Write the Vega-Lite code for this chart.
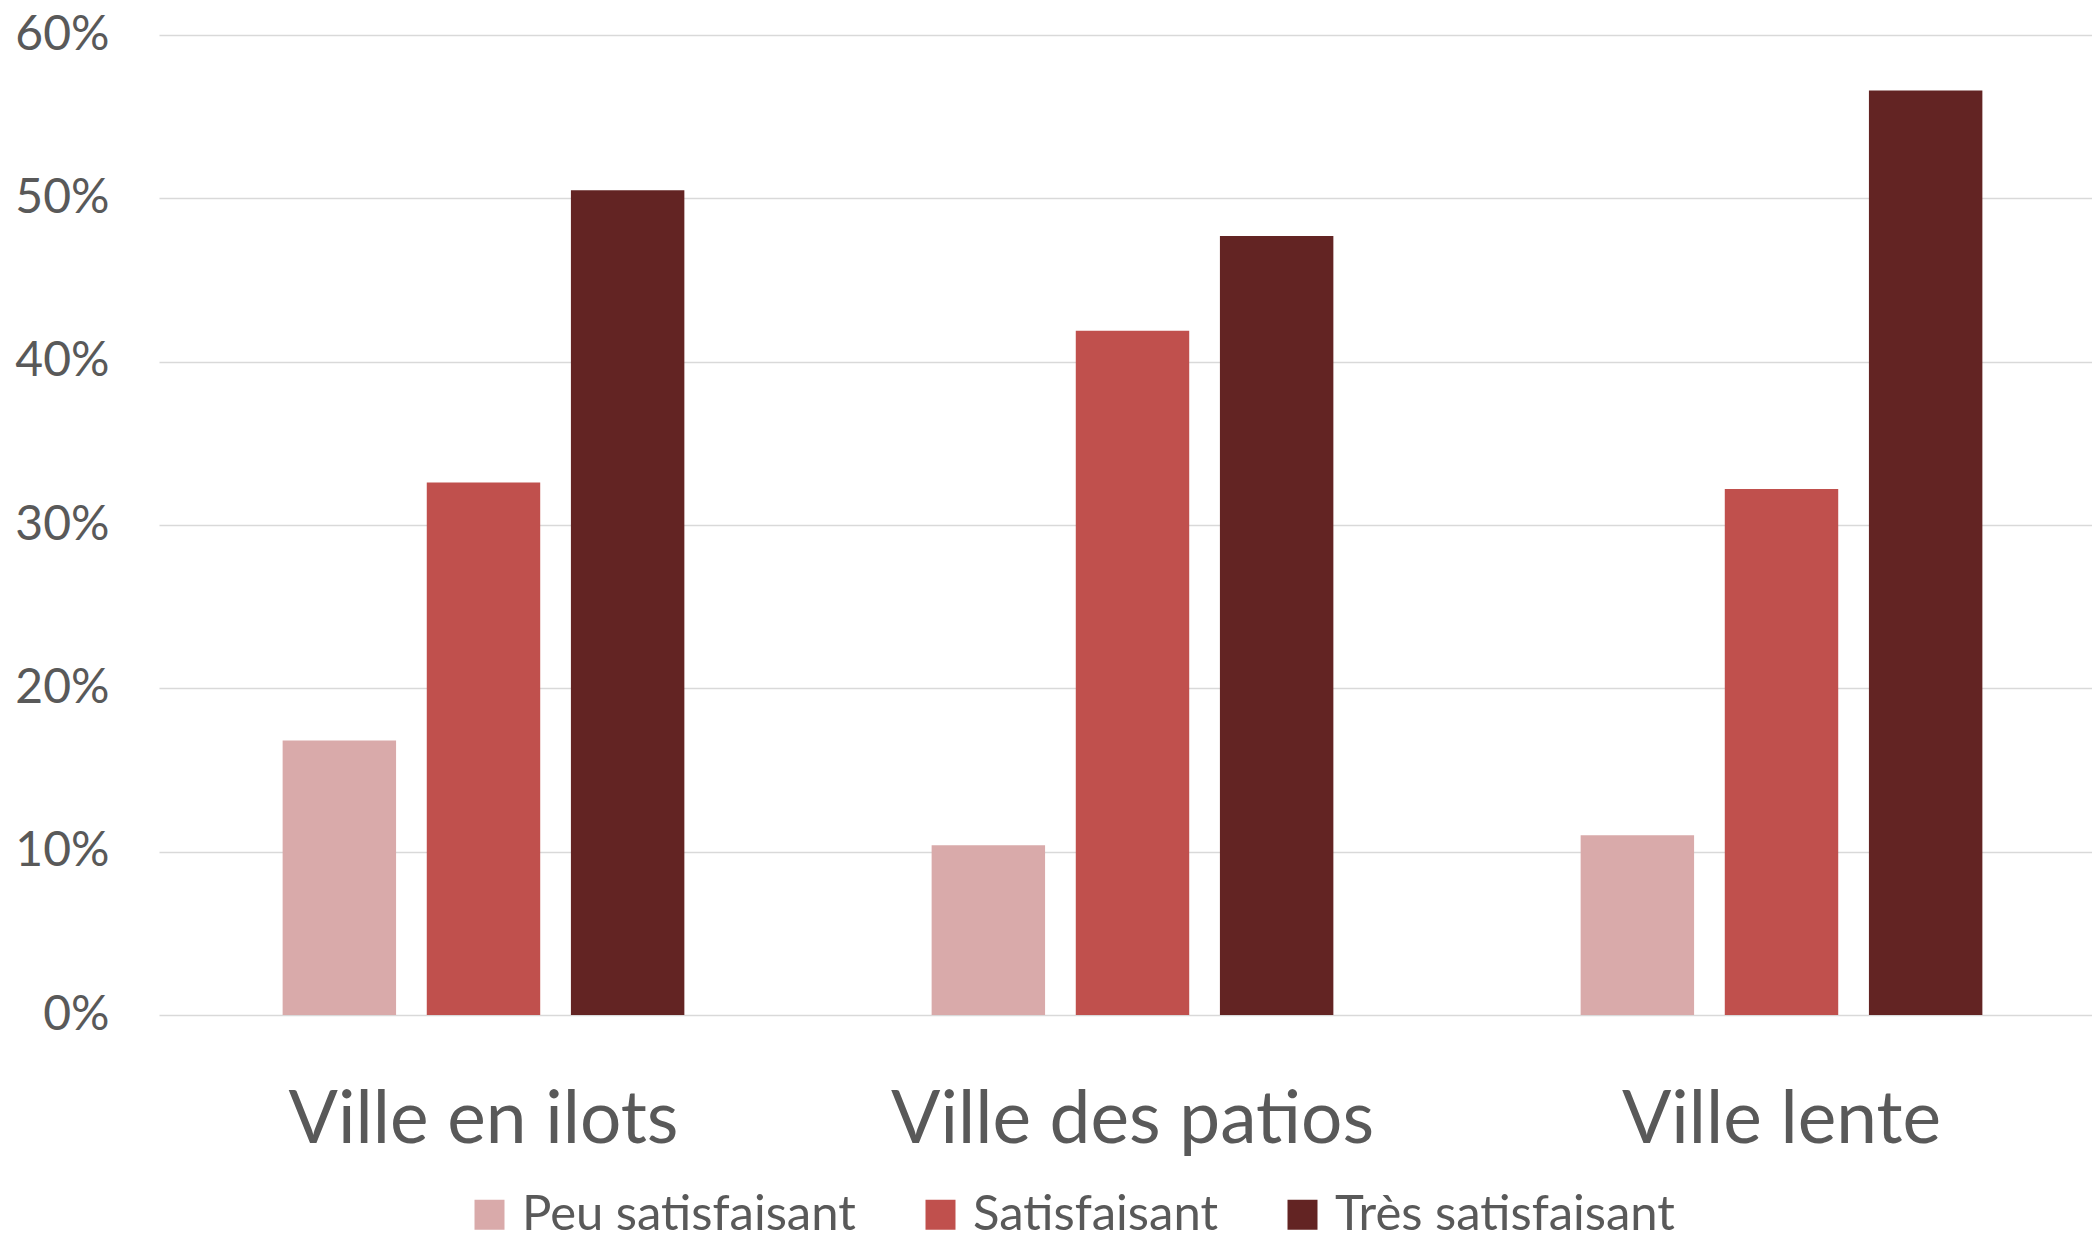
{
  "$schema": "https://vega.github.io/schema/vega-lite/v6.json",
  "autosize": {"type": "none"},
  "padding": {"left": 159, "top": 35, "right": 0, "bottom": 225},
  "width": 1933,
  "height": 980,
  "background": "white",
  "config": {
    "font": "Lato",
    "view": {"stroke": null}
  },
  "data": {
    "values": [
      {"ville": "Ville en ilots", "niveau": "Peu satisfaisant", "part": 0.168},
      {"ville": "Ville en ilots", "niveau": "Satisfaisant", "part": 0.326},
      {"ville": "Ville en ilots", "niveau": "Très satisfaisant", "part": 0.505},
      {"ville": "Ville des patios", "niveau": "Peu satisfaisant", "part": 0.104},
      {"ville": "Ville des patios", "niveau": "Satisfaisant", "part": 0.419},
      {"ville": "Ville des patios", "niveau": "Très satisfaisant", "part": 0.477},
      {"ville": "Ville lente", "niveau": "Peu satisfaisant", "part": 0.110},
      {"ville": "Ville lente", "niveau": "Satisfaisant", "part": 0.322},
      {"ville": "Ville lente", "niveau": "Très satisfaisant", "part": 0.566}
    ]
  },
  "mark": {"type": "bar"},
  "encoding": {
    "x": {
      "field": "ville",
      "type": "nominal",
      "sort": ["Ville en ilots", "Ville des patios", "Ville lente"],
      "scale": {"paddingInner": 0.381, "paddingOuter": 0.1797, "align": 0.53},
      "axis": {
        "title": null,
        "domain": false,
        "ticks": false,
        "labelAngle": 0,
        "labelFontSize": 73,
        "labelColor": "#595959",
        "labelPadding": 69,
        "labelLimit": 0
      }
    },
    "xOffset": {
      "field": "niveau",
      "type": "nominal",
      "sort": ["Peu satisfaisant", "Satisfaisant", "Très satisfaisant"],
      "scale": {"paddingInner": 0.213, "paddingOuter": 0}
    },
    "y": {
      "field": "part",
      "type": "quantitative",
      "scale": {"domain": [0, 0.6], "nice": false},
      "axis": {
        "title": null,
        "format": ".0%",
        "values": [0, 0.1, 0.2, 0.3, 0.4, 0.5, 0.6],
        "domain": false,
        "ticks": false,
        "gridColor": "#D9D9D9",
        "gridWidth": 1.5,
        "labelFontSize": 48,
        "labelColor": "#595959",
        "labelPadding": 50
      }
    },
    "color": {
      "field": "niveau",
      "type": "nominal",
      "sort": ["Peu satisfaisant", "Satisfaisant", "Très satisfaisant"],
      "scale": {"domain": ["Peu satisfaisant", "Satisfaisant", "Très satisfaisant"], "range": ["#D9AAAA", "#C0504D", "#632423"]},
      "legend": {
        "title": null,
        "orient": "none",
        "direction": "horizontal",
        "legendX": 306,
        "legendY": 1155,
        "symbolType": "square",
        "symbolSize": 900,
        "symbolStrokeWidth": 0,
        "symbolOpacity": 1,
        "labelFontSize": 49,
        "labelColor": "#595959",
        "labelOffset": 8,
        "columnPadding": 60,
        "labelLimit": 0
      }
    }
  }
}
